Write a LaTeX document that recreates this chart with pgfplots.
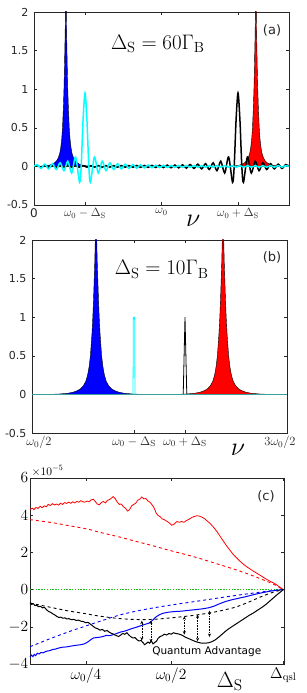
\RequirePackage{fix-cm}
\documentclass[border=0pt]{standalone}
\usepackage[no-math]{fontspec}
\usepackage{pgfplots}
\pgfplotsset{compat=1.18}
\usetikzlibrary{arrows.meta}
\newfontfamily\dv{DejaVu Sans}
\definecolor{axgray}{rgb}{0.15,0.15,0.15}
\definecolor{teal2}{rgb}{0.22,0.62,0.62}
\definecolor{grn}{RGB}{20,190,20}
\definecolor{cyanc}{rgb}{0,1,1}
\definecolor{bluec}{rgb}{0,0,1}
\definecolor{redc}{rgb}{1,0,0}
\pgfplotsset{
  common/.style={
    scale only axis,
    anchor=south west,
    axis line style={axgray, line width=0.5pt},
    every tick/.style={axgray, line width=0.5pt},
    major tick length=3pt,
    tick align=inside,
  },
  spec/.style={
    common, width=255pt, height=193pt,
    ymin=-0.5, ymax=2,
    ytick={-0.5,0,0.5,1,1.5,2},
    yticklabels={-0.5,0,0.5,1,1.5,2},
    yticklabel style={font=\dv\fontsize{11}{11}\selectfont, text=axgray, xshift=-2pt},
    xlabel={$\nu$},
  },
}
\begin{document}
\begin{tikzpicture}
\useasboundingbox (0pt,0pt) rectangle (307pt,693pt);
% ---------------- (a)
\begin{axis}[spec, at={(34pt,488pt)},
  xmin=0, xmax=2,
  xtick={0,0.4,1,1.6},
  xticklabels={{\dv\fontsize{12}{12}\selectfont 0},$\omega_0-\Delta_{\rm S}$,$\omega_0$,$\omega_0+\Delta_{\rm S}$},
  xticklabel style={font=\fontsize{12}{12}\selectfont, text=axgray},
  xlabel style={font=\fontsize{26}{26}\selectfont, at={(axis description cs:0.624,-0.081)}, anchor=center},
]
\addplot[fill=bluec, draw=black, line width=0.4pt] coordinates {
(0.034,0) (0.082,0.006) (0.118,0.015) (0.142,0.028) (0.1636,0.05) (0.178,0.075) (0.19,0.11) (0.202,0.17) (0.2104,0.25) (0.2176,0.36) (0.2236,0.5) (0.2308,0.78) (0.235,1.0) (0.2386,1.25) (0.2416,1.5) (0.244,1.7) (0.247,2.05) (0.25,2.8) (0.253,2.05) (0.256,1.7) (0.2584,1.5) (0.2614,1.25) (0.265,1.0) (0.2692,0.78) (0.2764,0.5) (0.2824,0.36) (0.2896,0.25) (0.298,0.17) (0.31,0.11) (0.322,0.075) (0.3364,0.05) (0.358,0.028) (0.382,0.015) (0.418,0.006) (0.466,0)} \closedcycle;
\addplot[fill=redc, draw=black, line width=0.4pt] coordinates {
(1.524,0) (1.572,0.006) (1.608,0.015) (1.632,0.028) (1.6536,0.05) (1.668,0.075) (1.68,0.11) (1.692,0.17) (1.7004,0.25) (1.7076,0.36) (1.7136,0.5) (1.7208,0.78) (1.725,1.0) (1.7286,1.25) (1.7316,1.5) (1.734,1.7) (1.737,2.05) (1.74,2.8) (1.743,2.05) (1.746,1.7) (1.7484,1.5) (1.7514,1.25) (1.755,1.0) (1.7592,0.78) (1.7664,0.5) (1.7724,0.36) (1.7796,0.25) (1.788,0.17) (1.8,0.11) (1.812,0.075) (1.8264,0.05) (1.848,0.028) (1.872,0.015) (1.908,0.006) (1.956,0)} \closedcycle;
\addplot[black, line width=1.5pt, smooth] coordinates {
(0,0) (0.025,0.010) (0.055,-0.010) (0.085,0.010) (0.115,-0.010) (0.145,0.010) (0.175,-0.010) (0.205,0.010) (0.235,-0.010) (0.265,0.010) (0.295,-0.010) (0.325,0.010) (0.355,-0.010) (0.385,0.010) (0.415,-0.010) (0.445,0.010) (0.475,-0.010) (0.505,0.010) (0.535,-0.010) (0.565,0.010) (0.595,-0.010) (0.625,0.010) (0.655,-0.010) (0.685,0.0100) (0.715,-0.0103) (0.745,0.0106) (0.775,-0.0110) (0.805,0.0114) (0.835,-0.0119) (0.865,0.0123) (0.895,-0.0129) (0.925,0.0134) (0.955,-0.0141) (0.985,0.0148) (1.015,-0.0155) (1.045,0.0163) (1.075,-0.0173) (1.105,0.0183) (1.135,-0.0195) (1.165,0.0209) (1.195,-0.0224) (1.225,0.0242) (1.255,-0.0263) (1.285,0.0288) (1.315,-0.0318) (1.345,0.0356) (1.375,-0.0403) (1.405,0.0465) (1.435,-0.0550) (1.465,0.0672) (1.4959,-0.0867) (1.5262,0.122) (1.5571,-0.206) (1.57,0) (1.585,0.605) (1.6,0.95) (1.615,0.605) (1.63,0) (1.6429,-0.206) (1.6738,0.122) (1.7041,-0.0867) (1.735,0.0672) (1.765,-0.055) (1.795,0.0465) (1.825,-0.0403) (1.855,0.0356) (1.885,-0.0318) (1.915,0.0288) (1.945,-0.0263) (1.975,0.0242) (2,0)};
\addplot[cyanc, line width=1.5pt, smooth] coordinates {
(0,0) (0.025,0.0242) (0.055,-0.0263) (0.085,0.0288) (0.115,-0.0318) (0.145,0.0356) (0.175,-0.0403) (0.205,0.0465) (0.235,-0.0550) (0.265,0.0672) (0.2959,-0.0867) (0.3262,0.122) (0.3571,-0.206) (0.37,0) (0.385,0.605) (0.4,0.95) (0.415,0.605) (0.43,0) (0.4429,-0.206) (0.4738,0.122) (0.5041,-0.0867) (0.535,0.0672) (0.565,-0.0550) (0.595,0.0465) (0.625,-0.0403) (0.655,0.0356) (0.685,-0.0318) (0.715,0.0288) (0.745,-0.0263) (0.775,0.0242) (0.805,-0.0224) (0.835,0.0209) (0.865,-0.0195) (0.895,0.0183) (0.925,-0.0173) (0.955,0.0163) (0.985,-0.0155) (1.015,0.0148) (1.045,-0.0141) (1.075,0.0134) (1.105,-0.0129) (1.135,0.0123) (1.165,-0.0119) (1.195,0.0114) (1.225,-0.0110) (1.255,0.0106) (1.285,-0.0103) (1.315,0.0100) (1.345,-0.010) (1.375,0.010) (1.405,-0.010) (1.435,0.010) (1.465,-0.010) (1.495,0.010) (1.525,-0.010) (1.555,0.010) (1.585,-0.010) (1.615,0.010) (1.645,-0.010) (1.675,0.010) (1.705,-0.010) (1.735,0.010) (1.765,-0.010) (1.795,0.010) (1.825,-0.010) (1.855,0.010) (1.885,-0.010) (1.915,0.010) (1.945,-0.010) (1.975,0.010) (2,0)};
\node[font=\fontsize{21}{21}\selectfont] at (axis cs:0.971,1.59) {$\Delta_{\rm S}=60\Gamma_{\rm B}$};
\node[font=\dv\fontsize{13}{13}\selectfont, text=axgray] at (axis cs:1.867,1.76) {(a)};
\end{axis}
% ---------------- (b)
\begin{axis}[spec, at={(32pt,260pt)},
  xmin=0.5, xmax=1.5,
  xtick={0.5,0.9,1.1,1.5},
  xticklabels={\hspace*{14pt}$\omega_0/2$,$\omega_0-\Delta_{\rm S}$,$\omega_0+\Delta_{\rm S}$,$3\omega_0/2$\hspace*{14pt}},
  xticklabel style={font=\fontsize{12.5}{12.5}\selectfont, text=axgray},
  xlabel style={font=\fontsize{26}{26}\selectfont, at={(axis description cs:0.808,-0.088)}, anchor=center},
]
\addplot[fill=bluec, draw=black, line width=0.4pt] coordinates {
(0.571,0) (0.611,0.006) (0.641,0.015) (0.661,0.028) (0.679,0.05) (0.691,0.075) (0.701,0.11) (0.711,0.17) (0.718,0.25) (0.724,0.36) (0.729,0.5) (0.735,0.78) (0.7385,1.0) (0.7415,1.25) (0.744,1.5) (0.746,1.7) (0.7485,2.05) (0.751,2.8) (0.7535,2.05) (0.756,1.7) (0.758,1.5) (0.7605,1.25) (0.7635,1.0) (0.767,0.78) (0.773,0.5) (0.778,0.36) (0.784,0.25) (0.791,0.17) (0.801,0.11) (0.811,0.075) (0.823,0.05) (0.841,0.028) (0.861,0.015) (0.891,0.006) (0.931,0)} \closedcycle;
\addplot[fill=redc, draw=black, line width=0.4pt] coordinates {
(1.069,0) (1.109,0.006) (1.139,0.015) (1.159,0.028) (1.177,0.05) (1.189,0.075) (1.199,0.11) (1.209,0.17) (1.216,0.25) (1.222,0.36) (1.227,0.5) (1.233,0.78) (1.2365,1.0) (1.2395,1.25) (1.242,1.5) (1.244,1.7) (1.2465,2.05) (1.249,2.8) (1.2515,2.05) (1.254,1.7) (1.256,1.5) (1.2585,1.25) (1.2615,1.0) (1.265,0.78) (1.271,0.5) (1.276,0.36) (1.282,0.25) (1.289,0.17) (1.299,0.11) (1.309,0.075) (1.321,0.05) (1.339,0.028) (1.359,0.015) (1.389,0.006) (1.429,0)} \closedcycle;
\addplot[black, line width=0.8pt] coordinates {(1.093,0) (1.1,1) (1.107,0)};
\addplot[cyanc, line width=0.8pt] coordinates {(0.8962,0) (0.8975,1) (0.9025,1) (0.9038,0)};
\addplot[teal2, line width=1.2pt] coordinates {(0.5,0) (1.5,0)};
\node[font=\fontsize{21}{21}\selectfont] at (axis cs:1.0086,1.62) {$\Delta_{\rm S}=10\Gamma_{\rm B}$};
\node[font=\dv\fontsize{13}{13}\selectfont, text=axgray] at (axis cs:1.441,1.77) {(b)};
\end{axis}
% ---------------- (c)
\begin{axis}[common, at={(30pt,29pt)}, width=254pt, height=186pt,
  clip=false,
  xmin=0.0853, xmax=0.832, ymin=-4, ymax=6,
  ytick={-4,-2,0,2,4,6},
  xtick={0.25,0.5,0.83},
  xticklabels={$\omega_0/4$,$\omega_0/2$,$\Delta_{\rm qsl}$},
  ticklabel style={font=\fontsize{15.5}{15.5}\selectfont},
  yticklabel style={inner xsep=1.5pt},
  xlabel={$\Delta_{\rm S}$},
  xlabel style={font=\fontsize{22}{22}\selectfont, at={(axis description cs:0.787,-0.095)}, anchor=center},
]
\addplot[color=grn, line width=1.4pt, dash pattern=on 1.4pt off 1.4pt] coordinates {(0.0853,0) (0.83,0)};
\addplot[redc, dashed, line width=0.9pt, smooth] coordinates {
(0.0853,3.76) (0.15,3.60) (0.193,3.46) (0.25,3.27) (0.291,3.08) (0.35,2.82) (0.389,2.63) (0.45,2.34) (0.487,2.15) (0.55,1.85) (0.585,1.67) (0.65,1.30) (0.683,1.11) (0.72,0.88) (0.762,0.59) (0.80,0.30) (0.83,0)};
\addplot[redc, line width=0.8pt] coordinates {
(0.0853,4.30) (0.092,4.38) (0.097,4.30) (0.103,4.42) (0.109,4.36) (0.115,4.48) (0.121,4.40) (0.127,4.50) (0.133,4.45) (0.139,4.58) (0.145,4.52) (0.151,4.62) (0.157,4.55) (0.163,4.60) (0.169,4.54) (0.175,4.64) (0.181,4.58) (0.187,4.68) (0.193,4.63) (0.199,4.70) (0.205,4.64) (0.211,4.72) (0.217,4.66) (0.223,4.74) (0.229,4.70) (0.235,4.78) (0.241,4.72) (0.247,4.70) (0.253,4.76) (0.259,4.72) (0.265,4.82) (0.271,4.86) (0.277,4.74) (0.283,4.60) (0.289,4.56) (0.295,4.68) (0.301,4.74) (0.307,4.66) (0.313,4.80) (0.319,4.84) (0.325,4.92) (0.330,5.00) (0.336,4.88) (0.342,4.70) (0.348,4.58) (0.354,4.60) (0.360,4.45) (0.366,4.38) (0.372,4.22) (0.378,4.30) (0.384,4.50) (0.390,4.58) (0.396,4.64) (0.402,4.80) (0.408,4.86) (0.414,4.98) (0.420,4.88) (0.426,4.90) (0.432,4.76) (0.438,4.70) (0.444,4.56) (0.450,4.40) (0.456,4.12) (0.462,3.98) (0.468,3.92) (0.474,3.80) (0.480,3.76) (0.487,3.68) (0.494,3.60) (0.502,3.46) (0.509,3.52) (0.517,3.66) (0.524,3.62) (0.531,3.66) (0.538,3.62) (0.546,3.72) (0.553,3.78) (0.561,3.88) (0.568,3.93) (0.576,3.97) (0.583,3.95) (0.590,3.90) (0.598,3.82) (0.605,3.71) (0.615,3.55) (0.625,3.35) (0.635,3.12) (0.644,2.87) (0.654,2.60) (0.664,2.33) (0.674,2.10) (0.683,1.88) (0.693,1.70) (0.703,1.52) (0.713,1.36) (0.723,1.22) (0.733,1.10) (0.742,0.99) (0.752,0.88) (0.762,0.77) (0.772,0.65) (0.782,0.54) (0.792,0.44) (0.801,0.36) (0.809,0.27) (0.816,0.18) (0.823,0.09) (0.830,0.00)};
\addplot[bluec, dashed, line width=0.9pt, smooth] coordinates {
(0.0853,-3.07) (0.15,-2.60) (0.2,-2.26) (0.242,-2.0) (0.3,-1.65) (0.35,-1.36) (0.4,-1.15) (0.449,-0.98) (0.5,-0.83) (0.548,-0.70) (0.6,-0.56) (0.665,-0.38) (0.72,-0.24) (0.79,-0.07) (0.83,0)};
\addplot[bluec, line width=1pt] coordinates {
(0.0853,-3.62) (0.090,-3.52) (0.094,-3.60) (0.098,-3.48) (0.102,-3.55) (0.107,-3.42) (0.112,-3.46) (0.118,-3.38) (0.124,-3.40) (0.130,-3.34) (0.137,-3.30) (0.144,-3.28) (0.152,-3.22) (0.160,-3.20) (0.170,-3.14) (0.180,-3.10) (0.193,-3.08) (0.205,-3.04) (0.218,-3.00) (0.232,-2.97) (0.245,-2.92) (0.255,-2.82) (0.265,-2.68) (0.272,-2.60) (0.280,-2.58) (0.290,-2.56) (0.300,-2.52) (0.310,-2.46) (0.320,-2.48) (0.330,-2.42) (0.340,-2.36) (0.352,-2.28) (0.362,-2.24) (0.372,-2.18) (0.384,-2.10) (0.395,-2.04) (0.405,-1.98) (0.415,-1.92) (0.425,-1.86) (0.435,-1.80) (0.445,-1.66) (0.455,-1.48) (0.465,-1.36) (0.475,-1.28) (0.490,-1.22) (0.510,-1.18) (0.530,-1.16) (0.550,-1.12) (0.570,-1.08) (0.590,-1.04) (0.610,-0.98) (0.625,-0.90) (0.640,-0.78) (0.660,-0.64) (0.680,-0.54) (0.700,-0.46) (0.720,-0.38) (0.745,-0.26) (0.770,-0.16) (0.795,-0.07) (0.815,-0.03) (0.83,0)};
\addplot[black, dashed, line width=0.9pt, smooth] coordinates {
(0.0853,-0.72) (0.14,-0.93) (0.193,-1.13) (0.25,-1.30) (0.291,-1.43) (0.35,-1.56) (0.40,-1.61) (0.448,-1.60) (0.50,-1.52) (0.546,-1.43) (0.58,-1.35) (0.615,-1.25) (0.65,-1.12) (0.69,-0.94) (0.73,-0.66) (0.762,-0.40) (0.80,-0.14) (0.83,0)};
\addplot[black, line width=1pt] coordinates {
(0.0853,-0.72) (0.090,-0.80) (0.095,-0.76) (0.100,-0.86) (0.105,-0.84) (0.110,-0.92) (0.116,-0.90) (0.122,-0.98) (0.128,-0.96) (0.134,-1.08) (0.140,-1.18) (0.146,-1.22) (0.152,-1.30) (0.158,-1.36) (0.164,-1.44) (0.170,-1.50) (0.176,-1.48) (0.182,-1.54) (0.188,-1.52) (0.194,-1.58) (0.200,-1.56) (0.207,-1.62) (0.214,-1.60) (0.221,-1.66) (0.228,-1.64) (0.235,-1.70) (0.242,-1.72) (0.249,-1.78) (0.256,-1.76) (0.263,-1.86) (0.270,-1.96) (0.277,-2.06) (0.284,-2.10) (0.291,-2.18) (0.298,-2.14) (0.305,-2.24) (0.312,-2.20) (0.319,-2.30) (0.326,-2.36) (0.333,-2.42) (0.340,-2.48) (0.346,-2.52) (0.352,-2.44) (0.358,-2.36) (0.364,-2.40) (0.370,-2.32) (0.376,-2.44) (0.382,-2.54) (0.388,-2.60) (0.394,-2.58) (0.400,-2.70) (0.406,-2.76) (0.412,-2.74) (0.418,-2.86) (0.422,-2.96) (0.427,-2.90) (0.432,-2.82) (0.437,-2.88) (0.442,-2.76) (0.447,-2.92) (0.452,-2.84) (0.457,-2.78) (0.462,-2.62) (0.468,-2.52) (0.474,-2.48) (0.480,-2.40) (0.487,-2.44) (0.494,-2.36) (0.500,-2.40) (0.507,-2.32) (0.514,-2.36) (0.521,-2.38) (0.528,-2.42) (0.535,-2.48) (0.542,-2.56) (0.550,-2.62) (0.560,-2.70) (0.570,-2.78) (0.580,-2.84) (0.590,-2.88) (0.600,-2.88) (0.610,-2.86) (0.620,-2.80) (0.630,-2.70) (0.640,-2.56) (0.650,-2.40) (0.660,-2.24) (0.670,-2.10) (0.680,-1.98) (0.690,-1.86) (0.700,-1.74) (0.710,-1.62) (0.720,-1.50) (0.730,-1.38) (0.740,-1.28) (0.750,-1.16) (0.760,-1.04) (0.770,-0.92) (0.780,-0.78) (0.790,-0.62) (0.800,-0.46) (0.810,-0.30) (0.820,-0.15) (0.830,0)};
\addplot[black, densely dotted, line width=0.6pt, {Stealth[length=3.5pt,width=3pt]}-{Stealth[length=3.5pt,width=3pt]}] coordinates {(0.414,-1.67) (0.414,-2.74)};
\addplot[black, densely dotted, line width=0.6pt, {Stealth[length=3.5pt,width=3pt]}-{Stealth[length=3.5pt,width=3pt]}] coordinates {(0.441,-1.67) (0.441,-2.84)};
\addplot[black, densely dotted, line width=0.6pt, {Stealth[length=3.5pt,width=3pt]}-{Stealth[length=3.5pt,width=3pt]}] coordinates {(0.539,-1.43) (0.539,-2.42)};
\addplot[black, densely dotted, line width=0.6pt, {Stealth[length=3.5pt,width=3pt]}-{Stealth[length=3.5pt,width=3pt]}] coordinates {(0.578,-1.34) (0.578,-2.78)};
\addplot[black, densely dotted, line width=0.6pt, {Stealth[length=3.5pt,width=3pt]}-{Stealth[length=3.5pt,width=3pt]}] coordinates {(0.613,-1.13) (0.613,-2.55)};
\node[font=\dv\fontsize{10.5}{10.5}\selectfont] at (axis cs:0.605,-3.33) {Quantum Advantage};
\node[font=\dv\fontsize{13}{13}\selectfont, text=axgray] at (axis cs:0.779,5.02) {(c)};
\node[font=\fontsize{11.5}{11.5}\selectfont] at (rel axis cs:0.069,1.038) {$\times 10^{-5}$};
\end{axis}
\end{tikzpicture}
\end{document}
